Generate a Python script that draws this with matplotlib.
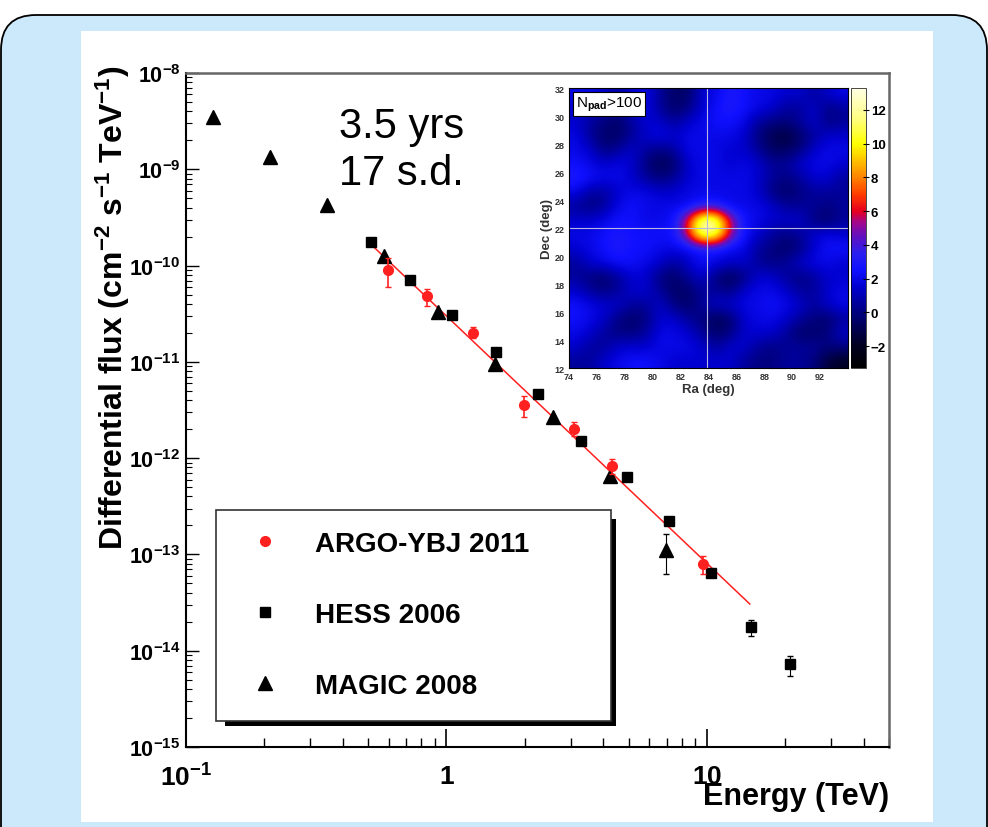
import matplotlib
matplotlib.use("Agg")
import matplotlib.pyplot as plt
import numpy as np
from matplotlib.patches import FancyBboxPatch, Rectangle
from matplotlib.colors import LinearSegmentedColormap
from matplotlib.ticker import LogLocator, NullFormatter, FuncFormatter

plt.rcParams['font.family'] = ['Liberation Sans', 'DejaVu Sans']
plt.rcParams['mathtext.fontset'] = 'custom'
plt.rcParams['mathtext.rm'] = 'Liberation Sans:bold'
plt.rcParams['mathtext.bf'] = 'Liberation Sans:bold'
plt.rcParams['mathtext.it'] = 'Liberation Sans:bold:italic'
plt.rcParams['mathtext.default'] = 'rm'

# ARGO-YBJ 2011 points (TeV, cm-2 s-1 TeV-1)
argo_E = [0.598, 0.838, 1.26, 1.98, 3.1, 4.31, 9.66]
argo_F = [9.0e-11, 4.8e-11, 2.0e-11, 3.55e-12, 2.0e-12, 8.3e-13, 7.9e-14]
argo_lo = [6.0e-11, 3.8e-11, 1.75e-11, 2.7e-12, 1.7e-12, 6.9e-13, 6.3e-14]
argo_hi = [1.2e-10, 5.7e-11, 2.3e-11, 4.4e-12, 2.4e-12, 9.8e-13, 9.6e-14]

# HESS 2006
hess_E = [0.515, 0.727, 1.05, 1.55, 2.24, 3.27, 4.92, 7.14, 10.4, 14.8, 20.8]
hess_F = [1.76e-10, 7.1e-11, 3.1e-11, 1.26e-11, 4.6e-12, 1.5e-12, 6.4e-13,
          2.2e-13, 6.4e-14, 1.78e-14, 7.2e-15]
hess_lo = [1.76e-10, 7.1e-11, 3.1e-11, 1.26e-11, 4.6e-12, 1.5e-12, 6.4e-13,
           2.2e-13, 6.4e-14, 1.43e-14, 5.4e-15]
hess_hi = [1.76e-10, 7.1e-11, 3.1e-11, 1.26e-11, 4.6e-12, 1.5e-12, 6.4e-13,
           2.2e-13, 6.4e-14, 2.1e-14, 8.8e-15]

# MAGIC 2008
magic_E = [0.127, 0.21, 0.348, 0.573, 0.93, 1.54, 2.56, 4.24, 6.95]
magic_F = [3.5e-9, 1.34e-9, 4.25e-10, 1.26e-10, 3.3e-11, 9.5e-12, 2.7e-12, 6.6e-13, 1.1e-13]
magic_lo = [3.5e-9, 1.34e-9, 4.25e-10, 1.26e-10, 3.3e-11, 9.5e-12, 2.7e-12, 6.6e-13, 6.3e-14]
magic_hi = [3.5e-9, 1.34e-9, 4.25e-10, 1.26e-10, 3.3e-11, 9.5e-12, 2.7e-12, 6.6e-13, 1.63e-13]

# ARGO fit line end points
fit_E = [0.506, 14.6]
fit_F = [1.72e-10, 3.06e-14]

# significance map, rows Dec 31.5 -> 12.5, columns Ra 74.5 -> 93.5
sig_map = np.array([
    [2, 2, 1.5, 0.5, 1.5, 2, 0.5, -0.5, -0.5, 1.5, 2, 3, 2.5, 2, 2, 1.5, 1.5, 0.5, 1.5, 2],
    [1.5, 1.5, 0.5, 0, 1.5, 2, 0.5, -0.5, 0, 1.5, 2.5, 3, 2.5, 2, 1.5, 0.5, 0.5, 1.5, 0, 0.5],
    [1.5, 0.5, 0, -0.5, 0.5, 1.5, 1.5, 0.5, 1.5, 2, 2.5, 2.5, 2, 0.5, 0, 0, 0.5, 1.5, 0, 0.5],
    [2, 0.5, -0.5, -0.5, 0.5, 1.5, 2, 1.5, 2, 2, 2, 2, 1.5, 0, -1, -1.5, -0.5, 0.5, 1.5, 1.5],
    [2, 1.5, 0, 0.5, 1.5, 0.5, 0, 0.5, 2, 2, 2, 1.5, 1.5, 0.5, -0.5, -0.5, 0, 1.5, 2, 2],
    [2.5, 2, 1.5, 2, 1.5, 0, -1, -0.5, 1.5, 2, 2, 1.5, 2, 1.5, 0.5, 0.5, 1.5, 2, 2, 1.5],
    [3, 2.5, 2, 2, 1.5, 0.5, 0, 0.5, 1.5, 2, 2, 2, 2, 1.5, 0.5, 0, 0.5, 1.5, 1.5, 0.5],
    [2, 0.5, 0.5, 1.5, 2, 2, 1.5, 1.5, 2, 2, 2, 2, 2, 1.5, 0, -0.5, 0, 0.5, 0.5, 0.5],
    [0.5, 0, 0.5, 2, 2.5, 2, 2, 2, 2, 3, 3, 2, 2, 2, 1.5, 0.5, 0.5, 0.5, 0, 0.5],
    [1.5, 1.5, 2, 2.5, 2.5, 2, 2, 2.5, 6.5, 13, 12.5, 6, 2.5, 2, 1.5, 1.5, 1.5, 0, -0.5, 0.5],
    [2, 2, 2.5, 3, 2.5, 2.5, 2.5, 2.5, 6, 12, 11.5, 5.5, 2.5, 1.5, 0.5, 0, 0.5, 1.5, 2, 1.5],
    [1.5, 2, 2.5, 3, 2.5, 2.5, 2, 2, 2, 2.5, 2.5, 2, 2, 0.5, 0, -0.5, 0, 1.5, 2.5, 2.5],
    [0.5, 1.5, 2, 2.5, 2.5, 2, 1.5, 0.5, 1.5, 2.5, 2, 1.5, 1.5, 0.5, 0, 0.5, 1.5, 2, 2, 1.5],
    [0.5, 0, -0.5, 0.5, 1.5, 1.5, 0, -0.5, 0.5, 1.5, 0, -1, 0, 1.5, 1.5, 0.5, 0, 0.5, 1.5, 1.5],
    [1.5, 0.5, 0, 0.5, 1.5, 1.5, 0.5, -0.5, -0.5, 0.5, 0.5, 0, 1.5, 2, 2, 1.5, 0.5, 0.5, 1.5, 2],
    [2.5, 2, 1.5, 1.5, 0.5, 0.5, 1.5, 0, -0.5, 0.5, 1.5, 1.5, 2, 2, 2.5, 2, 1.5, 0.5, 1.5, 2],
    [2.5, 2, 1.5, 0, -0.5, 0, 1.5, 1.5, 0.5, 0, -1, -0.5, 1.5, 2, 2, 1.5, 0.5, 0, -0.5, 0.5],
    [2, 1.5, 0.5, 0, 0, 0.5, 2, 2, 1.5, 0.5, -0.5, 0, 1.5, 1.5, 1.5, 0.5, -0.5, -0.5, 0, 1.5],
    [1.5, 0.5, 0.5, 1.5, 1.5, 1.5, 2, 2, 2, 1.5, 0.5, 1.5, 1.5, 0.5, 0, 0.5, 0.5, 0.5, 0, 0],
    [0.5, 0.5, 1.5, 2, 2.5, 2.5, 2, 1.5, 1.5, 1.5, 1.5, 1.5, 0.5, 0, 0, 0.5, 0.5, 0, -1.5, -2],
])
ra_range = [74, 94]
dec_range = [12, 32]
src_ra, src_dec = 83.9, 22.0

fig = plt.figure(figsize=(9.88, 8.28), dpi=100)

# light blue rounded slide box and white picture panel (behind the axes)
bg = FancyBboxPatch((0.01, -1.0), 9.86, 9.12, boxstyle='round,pad=0,rounding_size=0.35',
                    transform=fig.dpi_scale_trans, fc='#cce9fb', ec='black', lw=1.3,
                    zorder=-20)
fig.add_artist(bg)
fig.add_artist(Rectangle((0.81, 0.05), 8.52, 7.91, transform=fig.dpi_scale_trans,
                         fc='white', ec='none', zorder=-10))

ax = fig.add_axes([0.1883, 0.0966, 0.7115, 0.814])
ax.set_xscale('log')
ax.set_yscale('log')
ax.set_xlim(0.1, 50)
ax.set_ylim(1e-15, 1e-8)

red = '#ff2020'
ax.plot(fit_E, fit_F, color=red, lw=1.1, zorder=2)

eb_m = ax.errorbar(magic_E, magic_F,
                   yerr=[np.array(magic_F) - np.array(magic_lo), np.array(magic_hi) - np.array(magic_F)],
                   fmt='^', color='black', ms=10, capsize=2, elinewidth=0.8, zorder=3)
eb_h = ax.errorbar(hess_E, hess_F,
                   yerr=[np.array(hess_F) - np.array(hess_lo), np.array(hess_hi) - np.array(hess_F)],
                   fmt='s', color='black', ms=7, capsize=2, elinewidth=0.8, zorder=3)
eb_a = ax.errorbar(argo_E, argo_F,
                   yerr=[np.array(argo_F) - np.array(argo_lo), np.array(argo_hi) - np.array(argo_F)],
                   fmt='o', color=red, ms=7, capsize=2.5, elinewidth=1.2, zorder=4)

for s in ['left', 'bottom']:
    ax.spines[s].set_color('black')
    ax.spines[s].set_linewidth(1.5)
for s in ['top', 'right']:
    ax.spines[s].set_color('#666666')
    ax.spines[s].set_linewidth(1.8)

ax.xaxis.set_major_locator(LogLocator(base=10, numticks=10))
ax.xaxis.set_minor_locator(LogLocator(base=10, subs=np.arange(2, 10), numticks=20))
ax.yaxis.set_major_locator(LogLocator(base=10, numticks=20))
ax.yaxis.set_minor_locator(LogLocator(base=10, subs=np.arange(2, 10), numticks=40))
ax.xaxis.set_minor_formatter(NullFormatter())
ax.yaxis.set_minor_formatter(NullFormatter())


def xfmt(v, p):
    e = int(round(np.log10(v)))
    if e == 0:
        return '$1$'
    if e == 1:
        return '$10$'
    return r'$10^{%d}$' % e


ax.xaxis.set_major_formatter(FuncFormatter(xfmt))
ax.yaxis.set_major_formatter(FuncFormatter(lambda v, p: r'$10^{%d}$' % int(round(np.log10(v)))))

ax.tick_params(axis='both', which='both', direction='in', top=False, right=False)
ax.tick_params(axis='x', which='major', length=13, width=1.2, labelsize=19, pad=12)
ax.tick_params(axis='x', which='minor', length=6.5, width=1)
ax.tick_params(axis='y', which='major', length=9, width=1, labelsize=15.5, pad=4)
ax.tick_params(axis='y', which='minor', length=4.5, width=0.8)

ax.set_xlabel('Energy (TeV)', fontsize=22, fontweight='bold', ha='right', va='center')
ax.xaxis.set_label_coords(1.0, -0.072)
ax.set_ylabel(r'Differential flux (cm$^{-2}$ s$^{-1}$ TeV$^{-1}$)', fontsize=23,
              fontweight='bold', va='center')
ax.yaxis.set_label_coords(-0.104, 0.653)

ax.text(0.2176, 0.8865, '3.5 yrs\n17 s.d.', transform=ax.transAxes, fontsize=30,
        ha='left', va='center', linespacing=1.25)

# legend box with black drop shadow
ax.add_patch(Rectangle((0.0555, 0.0312), 0.5562, 0.3071, transform=ax.transAxes,
                       fc='black', ec='none', zorder=5))
ax.add_patch(Rectangle((0.0427, 0.0386), 0.5619, 0.3130, transform=ax.transAxes,
                       fc='white', ec='#333333', lw=1.2, zorder=6))
leg = ax.legend([eb_a[0], eb_h[0], eb_m[0]], ['ARGO-YBJ 2011', 'HESS 2006', 'MAGIC 2008'],
                loc='center left', bbox_to_anchor=(0.0727, 0.196), frameon=False,
                borderaxespad=0, borderpad=0, handlelength=2.0, handletextpad=0.8,
                labelspacing=1.62, prop={'size': 20, 'weight': 'bold'}, numpoints=1)
leg.set_zorder(7)

# inset significance map
axm = fig.add_axes([0.5759, 0.5543, 0.2824, 0.3382])
stops = [(-3.3, '#000000'), (-2, '#000020'), (-1, '#000050'), (0, '#000080'),
         (1.5, '#0000d0'), (2.5, '#1010ff'), (3.5, '#2a20f0'), (4.5, '#6010c0'),
         (5.3, '#a00890'), (6, '#e6001e'), (7, '#ff3c00'), (8, '#ff8200'),
         (9, '#ffc000'), (10, '#ffff00'), (11.5, '#ffff80'), (13.3, '#ffffe6')]
cmap = LinearSegmentedColormap.from_list(
    'root', [((v + 3.3) / 16.6, c) for v, c in stops])
im = axm.imshow(sig_map, extent=[ra_range[0], ra_range[1], dec_range[0], dec_range[1]],
                origin='upper', cmap=cmap, vmin=-3.3, vmax=13.3, interpolation='bicubic',
                aspect='auto')
axm.axvline(src_ra, color='#b8b8e0', lw=0.8)
axm.axhline(src_dec, color='#b8b8e0', lw=0.8)
axm.set_xticks(range(74, 93, 2))
axm.set_yticks(range(12, 33, 2))
axm.tick_params(length=0, labelsize=6.5, pad=3, labelcolor='#333333')
for t in axm.get_xticklabels() + axm.get_yticklabels():
    t.set_fontweight('bold')
axm.set_xlabel('Ra (deg)', fontsize=9.5, fontweight='bold', labelpad=1, color='#333333')
axm.set_ylabel('Dec (deg)', fontsize=9.5, fontweight='bold', labelpad=1, color='#333333')
axm.text(0.025, 0.975, r'N$_{\rm pad}$>100', transform=axm.transAxes, fontsize=11,
         ha='left', va='top',
         bbox=dict(boxstyle='square,pad=0.2', fc='white', ec='black', lw=0.8))

cax = fig.add_axes([0.8613, 0.5543, 0.0152, 0.3382])
cb = fig.colorbar(im, cax=cax, ticks=range(-2, 13, 2))
cb.outline.set_linewidth(0.5)
cax.tick_params(labelsize=9.5, length=5, direction='inout', width=0.8, pad=1)
for t in cax.get_yticklabels():
    t.set_fontweight('bold')

fig.savefig('out.png', dpi=100)
